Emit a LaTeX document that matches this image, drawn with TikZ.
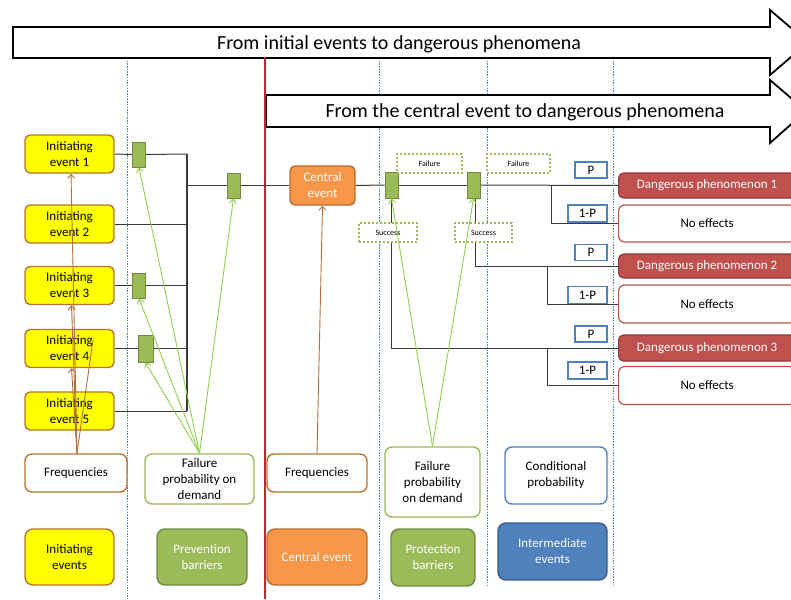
\documentclass[tikz,border=0pt]{standalone}
\usepackage{fontspec}
\setmainfont{Carlito}
\usetikzlibrary{arrows.meta}
\definecolor{iebrd}{HTML}{B9742F}
\definecolor{ieyel}{HTML}{FFFF00}
\definecolor{grfill}{HTML}{9BBB59}
\definecolor{grbrd}{HTML}{71893F}
\definecolor{orfill}{HTML}{F79646}
\definecolor{orbrd}{HTML}{B66D31}
\definecolor{blfill}{HTML}{4F81BD}
\definecolor{blbrd}{HTML}{385D8A}
\definecolor{rdfill}{HTML}{C0504D}
\definecolor{rdbrd}{HTML}{8C3836}
\definecolor{ltgreen}{HTML}{92D050}
\definecolor{brarrow}{HTML}{B0703C}
\definecolor{conn}{HTML}{3A3A3A}
\definecolor{redline}{HTML}{C0282D}
\definecolor{dashblue}{HTML}{4A7EC0}
\begin{document}
\begin{tikzpicture}[x=1pt,y=-1pt,
  txt/.style={font=\fontsize{13}{16}\selectfont, align=center, inner sep=1pt},
  iebox/.style={txt, draw=iebrd, fill=ieyel, rounded corners=5pt, line width=1.4pt, minimum width=89pt, minimum height=38pt},
  barbox/.style={draw=grbrd, fill=grfill, line width=1pt, minimum width=13pt, minimum height=25pt, inner sep=0pt},
  ceybox/.style={txt, text=white, draw=orbrd, fill=orfill, rounded corners=5pt, line width=1.4pt},
  dotbox/.style={draw=grfill, line width=1.8pt, dash pattern=on 1.8pt off 2.2pt, fill=white, font=\fontsize{8}{9}\selectfont, inner sep=0pt},
  pbox/.style={txt, draw=blfill, line width=1.4pt, fill=white, inner sep=0pt},
  dpbox/.style={txt, text=white, draw=rdbrd, fill=rdfill, rounded corners=5pt, line width=1.2pt, anchor=west, minimum width=177pt, inner sep=0pt},
  nebox/.style={txt, draw=rdfill, fill=white, rounded corners=6pt, line width=1.2pt, anchor=west, minimum width=177pt, inner sep=0pt},
  wbox/.style={txt, fill=white, rounded corners=7pt, line width=1.4pt, inner sep=0pt},
  legbox/.style={txt, rounded corners=8pt, line width=1.4pt, inner sep=0pt},
  connector/.style={draw=conn, line width=1pt},
  garrow/.style={draw=ltgreen, line width=0.9pt, -{Straight Barb[length=4pt,width=7pt]}},
  barrow/.style={draw=brarrow, line width=0.9pt, -{Straight Barb[length=4pt,width=7pt]}},
  bigarrow/.style={draw=black, line width=1.8pt, fill=white, line join=miter},
  vdash/.style={draw=dashblue, line width=0.8pt, dash pattern=on 1.5pt off 1.2pt}
]
\useasboundingbox (0,0) rectangle (791,599);
\clip (0,0) rectangle (791,599);
\fill[white] (0,0) rectangle (791,599);

% dashed column separators
\draw[vdash] (127,58) -- (127,599);
\draw[vdash] (379,58) -- (379,599);
\draw[vdash] (487,58) -- (487,585);
\draw[vdash] (613,58) -- (613,585);

% big arrows
\draw[bigarrow] (13,27) -- (770,27) -- (770,10) -- (808,42.5) -- (770,75) -- (770,58) -- (13,58) -- cycle;
\node[font=\fontsize{20}{22}\selectfont, inner sep=0pt] (t1) at (399,44) {From initial events to dangerous phenomena};
\draw[bigarrow] (266,95) -- (770,95) -- (770,80) -- (806,111) -- (770,143) -- (770,127) -- (266,127) -- cycle;
\node[font=\fontsize{20}{22}\selectfont, inner sep=0pt] (t2) at (525,112) {From the central event to dangerous phenomena};

% red line
\draw[redline, line width=2pt] (265,57) -- (265,599);

% initiating events
\node[iebox] (ie1) at (69.5,154) {Initiating\\event 1};
\node[iebox] (ie2) at (69.5,224) {Initiating\\event 2};
\node[iebox] (ie3) at (69.5,285.5) {Initiating\\event 3};
\node[iebox] (ie4) at (69.5,348.5) {Initiating\\event 4};
\node[iebox] (ie5) at (69.5,411) {Initiating\\event 5};

% prevention barriers
\node[barbox] (b1) at (139,154.5) {};
\node[barbox] (b3) at (139,285.5) {};
\node[barbox, minimum width=15pt, minimum height=27pt] (b4) at (145.5,348.5) {};
\node[barbox] (pb) at (233.5,185.5) {};

\coordinate (j1) at (187,154);
\coordinate (j2) at (187,224);
\coordinate (j3) at (187,285.5);
\coordinate (j4) at (187,348.5);
\coordinate (j5) at (187,411);
\coordinate (jm) at (187,185.5);

\draw[connector] (ie1.east) -- (b1.west);
\draw[connector] (b1.east) -- (j1);
\draw[connector] (ie2.east) -- (j2);
\draw[connector] (ie3.east) -- (b3.west);
\draw[connector] (b3.east) -- (j3);
\draw[connector] (ie4.east) -- (b4.west);
\draw[connector] (b4.east) -- (j4);
\draw[connector] (ie5.east) -- (j5);
\draw[connector, line width=1.3pt] (j1) -- (j5);
\draw[connector] (jm) -- (pb.west);

% central event
\node[ceybox, minimum width=65pt, minimum height=39pt] (ce) at (322.5,185.5) {Central\\event};
\draw[connector] (pb.east) -- (ce.west);

% protection barriers
\node[barbox, minimum height=26pt] (pr1) at (391.5,185) {};
\node[barbox, minimum height=26pt] (pr2) at (473.5,185) {};
\draw[connector] (ce.east) -- (pr1.west);
\draw[connector] (pr1.east) -- (pr2.west);

% outcomes
\node[dpbox, minimum height=25pt] (dp1) at (618,185.5) {Dangerous phenomenon 1};
\node[nebox, minimum height=37pt] (ne1) at (618,223.5) {No effects};
\node[dpbox, minimum height=24pt] (dp2) at (618,266) {Dangerous phenomenon 2};
\node[nebox, minimum height=38pt] (ne2) at (618,304) {No effects};
\node[dpbox, minimum height=26pt] (dp3) at (618,348) {Dangerous phenomenon 3};
\node[nebox, minimum height=38pt] (ne3) at (618,385.5) {No effects};

\coordinate (k1) at (551,185.5);
\coordinate (k2) at (547,266);
\coordinate (k3) at (547,348);
\draw[connector] (pr2.east) -- (dp1.west);
\draw[connector] (k1) |- (ne1.west);
\draw[connector] ([xshift=1.5pt]pr2.south) |- (dp2.west);
\draw[connector] (k2) |- (ne2.west);
\draw[connector] (pr1.south) |- (dp3.west);
\draw[connector] (k3) |- (ne3.west);

% P boxes
\node[pbox, minimum width=32pt, minimum height=16pt] (p1) at (591,170) {P};
\node[pbox, minimum width=39pt, minimum height=17pt] (q1) at (587.5,213.5) {1-P};
\node[pbox, minimum width=32pt, minimum height=16pt] (p2) at (591,252.5) {P};
\node[pbox, minimum width=39pt, minimum height=17pt] (q2) at (587.5,295) {1-P};
\node[pbox, minimum width=32pt, minimum height=16pt] (p3) at (591,334) {P};
\node[pbox, minimum width=39pt, minimum height=17pt] (q3) at (587.5,370.5) {1-P};

% failure / success labels
\node[dotbox, minimum width=65pt, minimum height=19pt] (f1) at (429.5,163.5) {Failure};
\node[dotbox, minimum width=63pt, minimum height=19pt] (f2) at (518.5,163.5) {Failure};
\node[dotbox, minimum width=58pt, minimum height=19pt] (s1) at (388,232.5) {Success};
\node[dotbox, minimum width=57pt, minimum height=19pt] (s2) at (483.5,232.5) {Success};

% bottom parameter boxes
\node[wbox, draw=iebrd, minimum width=102pt, minimum height=38pt] (fr1) at (76,473) {Frequencies};
\node[wbox, draw=grfill, minimum width=109pt, minimum height=50pt] (fp1) at (199.5,479) {Failure\\probability on\\demand};
\node[wbox, draw=iebrd, minimum width=100pt, minimum height=38pt] (fr2) at (317,473) {Frequencies};
\node[wbox, draw=grfill, minimum width=95pt, minimum height=70pt] (fp2) at (432.5,482) {Failure\\probability\\on demand};
\node[wbox, draw=blfill, minimum width=102pt, minimum height=57pt] (cp) at (556,475.5) {Conditional\\probability};

% legend boxes
\node[legbox, draw=iebrd, fill=ieyel, minimum width=89pt, minimum height=56pt] (lie) at (69.5,557) {Initiating\\events};
\node[legbox, draw=grbrd, fill=grfill, text=white, minimum width=90pt, minimum height=56pt] (lpb) at (202,557) {Prevention\\barriers};
\node[legbox, draw=orbrd, fill=orfill, text=white, minimum width=100pt, minimum height=56pt] (lce) at (317,557) {Central event};
\node[legbox, draw=grbrd, fill=grfill, text=white, minimum width=84pt, minimum height=57pt] (lpr) at (433,557.5) {Protection\\barriers};
\node[legbox, draw=blbrd, fill=blfill, text=white, minimum width=109pt, minimum height=57pt] (lint) at (552.5,551.5) {Intermediate\\events};

% green arrows
\draw[garrow] (fp1.north) -- (b1.south);
\draw[garrow] (fp1.north) -- (b3.south);
\draw[garrow] (fp1.north) -- (b4.south);
\draw[garrow] (fp1.north) -- (pb.south);
\draw[garrow] (fp2.north) -- (pr1.south);
\draw[garrow] (fp2.north) -- (pr2.south);

% brown arrows
\coordinate (x4) at (93,340);
\draw[barrow] ([xshift=1pt]fr1.north) -- ([xshift=1.5pt]ie1.south);
\draw[barrow] ([xshift=1pt]fr1.north) -- ([xshift=2pt]ie3.south);
\draw[barrow] ([xshift=1pt]fr1.north) -- ([xshift=2pt]ie4.south);
\draw[draw=brarrow, line width=0.9pt] ([xshift=1pt]fr1.north) -- (x4);
\draw[barrow] (fr2.north) -- (ce.south);
\end{tikzpicture}
\end{document}
